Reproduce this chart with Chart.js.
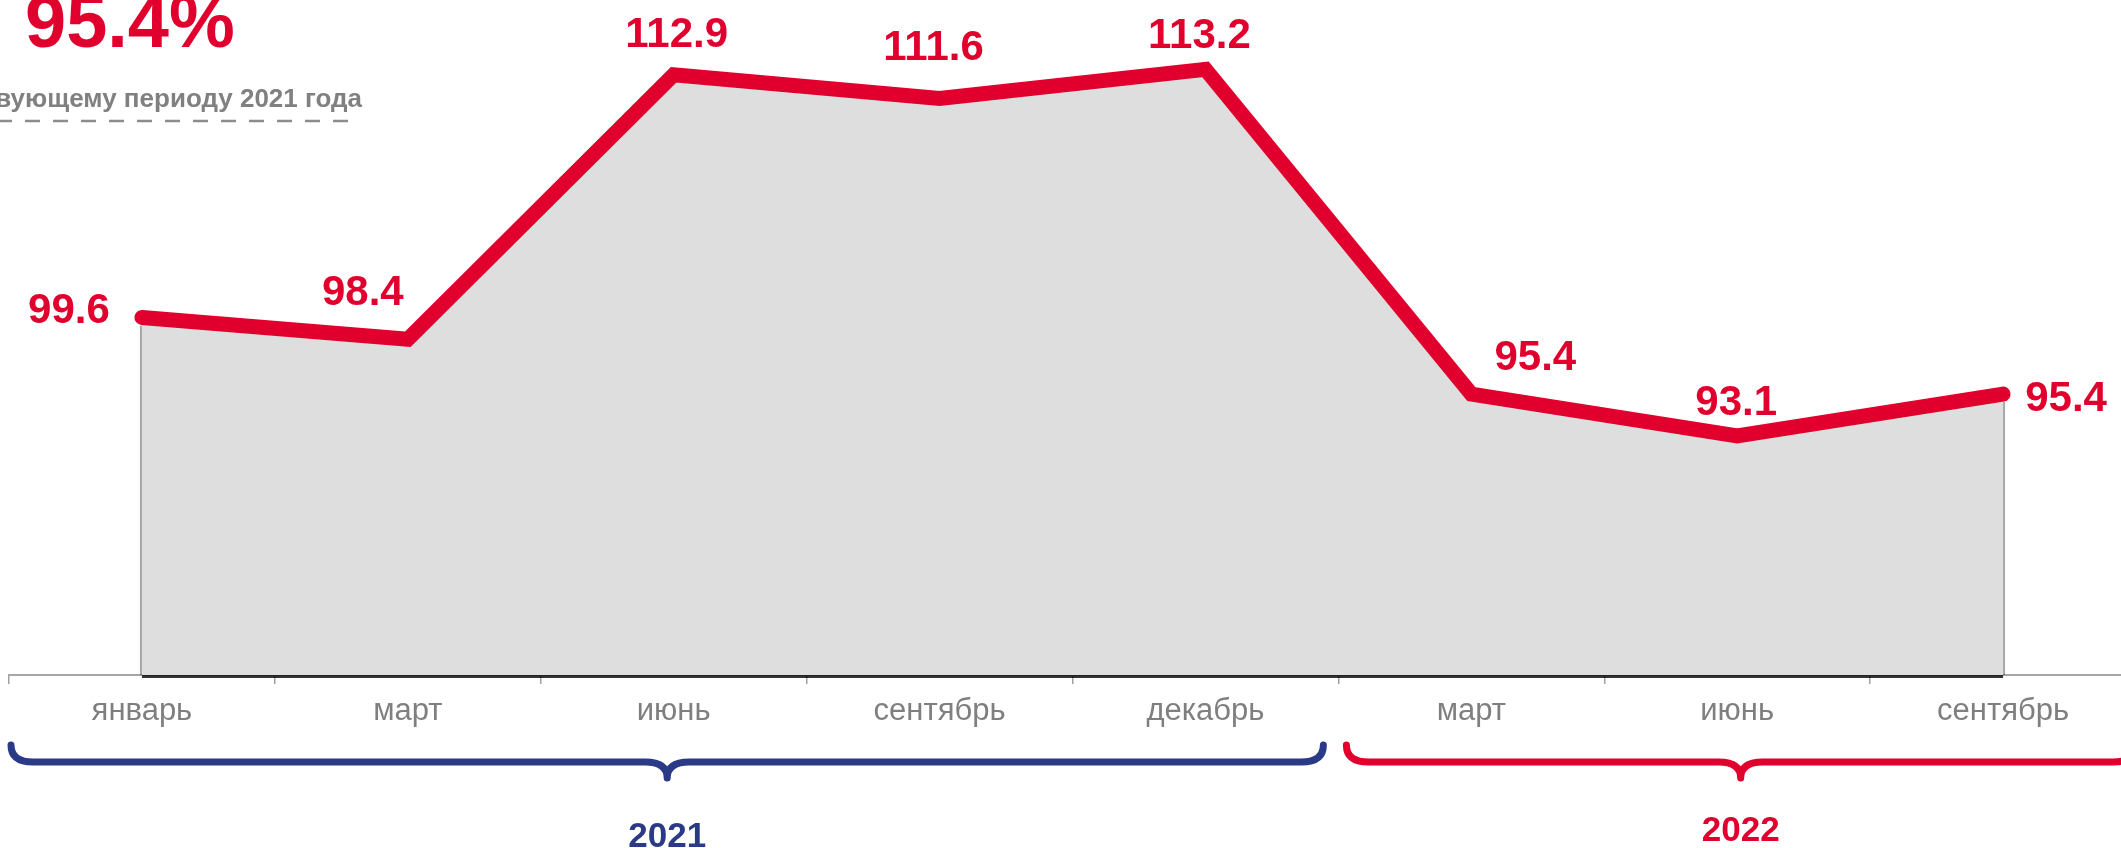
<!DOCTYPE html>
<html>
<head>
<meta charset="utf-8">
<script src="https://cdn.jsdelivr.net/npm/chart.js@4/dist/chart.umd.min.js"></script>
<style>
  html, body { margin: 0; padding: 0; background: #ffffff; overflow: hidden; width: 2121px; height: 848px; }
  #wrap { position: absolute; left: 0; top: 0; width: 2140px; height: 848px; }
  canvas { display: block; }
</style>
</head>
<body>
<div id="wrap"><canvas id="c" width="2140" height="848"></canvas></div>
<script>
// ---- data ----
const categories = ['январь', 'март', 'июнь', 'сентябрь', 'декабрь', 'март', 'июнь', 'сентябрь'];
const values = [99.6, 98.4, 112.9, 111.6, 113.2, 95.4, 93.1, 95.4];
const yearLabels = ['2021', '2022'];
const yearFirstIndex = [0, 5];
const yearLastIndex = [4, 7];
const headline = '95.4%';
const subtitle = 'к соответствующему периоду 2021 года';

// ---- styling / layout (not data) ----
const RED = '#E1002D';
const NAVY = '#2B3A87';
const GRAY_TEXT = '#808080';
const FONT = '"Liberation Sans", Arial, Helvetica, sans-serif';
const labelOffsets = [[-73, 6], [-45, -34], [3, -28], [-6, -39], [-6, -21], [64, -24], [-1, -21], [63, 17]];
const yearColors = [NAVY, RED];
const braceInset = [[2, 15], [8, 1]];
const yearBaseline = [847, 841];

const shadowPlugin = {
  id: 'fillShadow',
  beforeDatasetsDraw(chart) {
    const ctx = chart.ctx;
    ctx.shadowColor = 'rgba(0,0,0,0.7)';
    ctx.shadowBlur = 7;
    ctx.shadowOffsetX = 0;
    ctx.shadowOffsetY = 0;
  },
  afterDatasetDraw(chart, args) {
    if (args.index === 1) {
      const ctx = chart.ctx;
      ctx.shadowColor = 'rgba(0,0,0,0)';
      ctx.shadowBlur = 0;
    }
  },
  afterDatasetsDraw(chart) {
    const ctx = chart.ctx;
    ctx.shadowColor = 'rgba(0,0,0,0)';
    ctx.shadowBlur = 0;
  }
};

const decorPlugin = {
  id: 'decor',
  afterDraw(chart) {
    const ctx = chart.ctx;
    const meta = chart.getDatasetMeta(0);
    const xs = chart.scales.x;
    const area = chart.chartArea;
    ctx.save();

    // edges of the filled area (shadow look)
    const p0 = meta.data[0], pN = meta.data[meta.data.length - 1];
    ctx.strokeStyle = 'rgba(0,0,0,0.35)';
    ctx.lineWidth = 2;
    ctx.beginPath();
    ctx.moveTo(p0.x - 1, p0.y + 8);
    ctx.lineTo(p0.x - 1, area.bottom);
    ctx.moveTo(pN.x + 1, pN.y + 8);
    ctx.lineTo(pN.x + 1, area.bottom);
    ctx.stroke();

    // dark shadow line under filled area along axis
    ctx.strokeStyle = 'rgba(0,0,0,0.8)';
    ctx.lineWidth = 3;
    ctx.beginPath();
    ctx.moveTo(p0.x, area.bottom + 1.5);
    ctx.lineTo(pN.x, area.bottom + 1.5);
    ctx.stroke();

    // data labels
    ctx.fillStyle = RED;
    ctx.font = 'bold 42px ' + FONT;
    ctx.textAlign = 'center';
    ctx.textBaseline = 'alphabetic';
    meta.data.forEach((pt, i) => {
      const off = labelOffsets[i];
      ctx.fillText(values[i].toFixed(1), pt.x + off[0], pt.y + off[1]);
    });

    // headline
    ctx.textAlign = 'left';
    ctx.font = 'bold 74px ' + FONT;
    ctx.fillText(headline, 25, 47);

    // subtitle
    ctx.textAlign = 'right';
    ctx.fillStyle = GRAY_TEXT;
    ctx.font = 'bold 26px ' + FONT;
    ctx.fillText(subtitle, 362, 107);

    // dashed underline
    ctx.strokeStyle = '#8C8C8C';
    ctx.lineWidth = 2.5;
    ctx.setLineDash([15, 13]);
    ctx.beginPath();
    ctx.moveTo(348, 121);
    ctx.lineTo(-30, 121);
    ctx.stroke();
    ctx.setLineDash([]);

    // year braces
    const w = (xs.right - xs.left) / categories.length;
    const yLine = 762, yTop = 745, yTip = 778, r = 22;
    yearLabels.forEach((yl, k) => {
      const x0 = xs.left + yearFirstIndex[k] * w + braceInset[k][0];
      const x1 = xs.left + (yearLastIndex[k] + 1) * w - braceInset[k][1];
      const cx = (x0 + x1) / 2;
      ctx.strokeStyle = yearColors[k];
      ctx.lineWidth = 7;
      ctx.lineCap = 'round';
      ctx.lineJoin = 'round';
      ctx.beginPath();
      ctx.moveTo(x0, yTop);
      ctx.quadraticCurveTo(x0, yLine, x0 + r, yLine);
      ctx.lineTo(cx - r, yLine);
      ctx.quadraticCurveTo(cx, yLine, cx, yTip);
      ctx.quadraticCurveTo(cx, yLine, cx + r, yLine);
      ctx.lineTo(x1 - r, yLine);
      ctx.quadraticCurveTo(x1, yLine, x1, yTop);
      ctx.stroke();

      ctx.fillStyle = yearColors[k];
      ctx.font = 'bold 35px ' + FONT;
      ctx.textAlign = 'center';
      ctx.textBaseline = 'alphabetic';
      ctx.fillText(yl, cx, yearBaseline[k]);
    });
    ctx.restore();
  }
};

new Chart(document.getElementById('c'), {
  type: 'line',
  data: {
    labels: categories,
    datasets: [
      {
        data: values,
        borderColor: RED,
        borderWidth: 15,
        borderCapStyle: 'round',
        borderJoinStyle: 'miter',
        pointRadius: 0,
        fill: false,
        tension: 0,
        clip: false,
        order: 1
      },
      {
        data: values,
        borderWidth: 0,
        borderColor: 'rgba(0,0,0,0)',
        backgroundColor: '#DEDEDE',
        pointRadius: 0,
        fill: 'start',
        tension: 0,
        order: 2
      }
    ]
  },
  options: {
    responsive: false,
    animation: false,
    devicePixelRatio: 1,
    layout: { padding: { left: 9, right: 4, top: 0, bottom: 0 } },
    plugins: { legend: { display: false }, tooltip: { enabled: false } },
    scales: {
      y: { display: false, min: 80, max: 117 },
      x: {
        offset: true,
        afterFit(scale) { scale.height = 173; },
        grid: {
          offset: true,
          drawOnChartArea: false,
          drawTicks: true,
          tickLength: 9,
          color: '#A0A0A0',
          lineWidth: 1.5
        },
        border: { display: true, color: '#A6A6A6', width: 2 },
        ticks: {
          color: '#7F7F7F',
          padding: 9,
          font: { family: FONT, size: 31 },
          maxRotation: 0,
          autoSkip: false
        }
      }
    }
  },
  plugins: [shadowPlugin, decorPlugin]
});
</script>
</body>
</html>
